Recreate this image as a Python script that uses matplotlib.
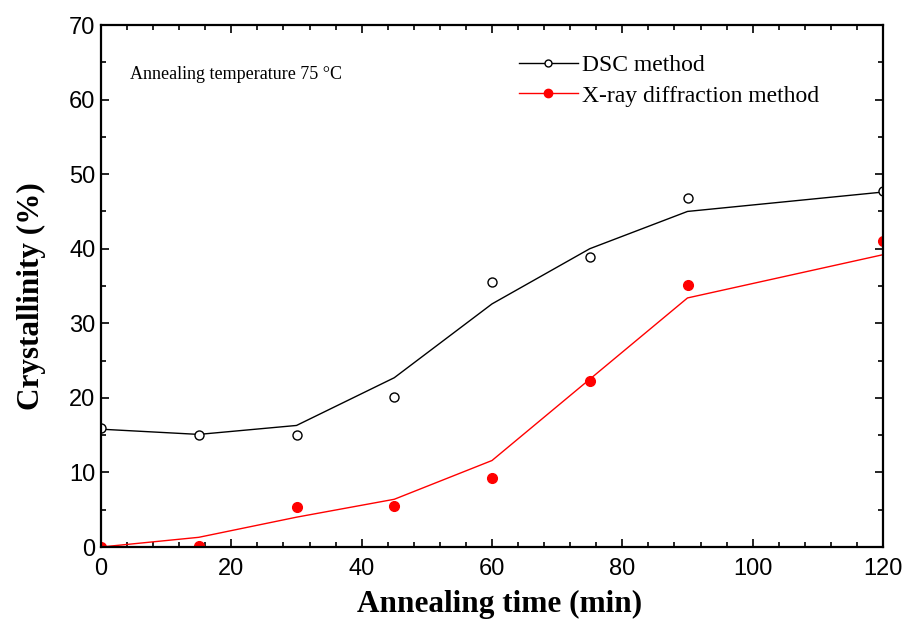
import matplotlib.pyplot as plt
from matplotlib.lines import Line2D
from matplotlib.ticker import MultipleLocator

# annealing times (min)
time = [0, 15, 30, 45, 60, 75, 90, 120]

# measured crystallinity (%)
dsc_pts = [15.9, 15.0, 15.0, 20.1, 35.6, 38.9, 46.8, 47.8]
xrd_pts = [0.0, 0.1, 5.3, 5.5, 9.2, 22.3, 35.2, 41.0]

# fitted curves (%)
dsc_fit = [15.8, 15.1, 16.3, 22.7, 32.6, 40.0, 45.0, 47.6]
xrd_fit = [0.0, 1.3, 4.0, 6.4, 11.6, 22.5, 33.4, 39.2]

serif = 'Liberation Serif'
sans = 'Liberation Sans'

fig = plt.figure(figsize=(9.05, 6.19), dpi=100)
ax = fig.add_axes([0.1116, 0.1163, 0.8641, 0.8433])

ax.plot(time, dsc_fit, color='black', lw=1.0)
ax.plot(time, dsc_pts, ls='none', marker='o', ms=6.5, mfc='white',
        mec='black', mew=1.0)
ax.plot(time, xrd_fit, color='red', lw=1.0)
ax.plot(time, xrd_pts, ls='none', marker='o', ms=7, mfc='red', mec='red')

ax.set_xlim(0, 120)
ax.set_ylim(0, 70)
ax.xaxis.set_major_locator(MultipleLocator(20))
ax.xaxis.set_minor_locator(MultipleLocator(4))
ax.yaxis.set_major_locator(MultipleLocator(10))
ax.yaxis.set_minor_locator(MultipleLocator(5))
ax.tick_params(which='both', direction='in', top=True, right=True, width=1.2)
ax.tick_params(which='major', length=6)
ax.tick_params(which='minor', length=3.5)
ax.tick_params(axis='x', which='major', pad=8)
ax.tick_params(axis='y', which='major', pad=4)
for lab in ax.get_xticklabels() + ax.get_yticklabels():
    lab.set_fontfamily(sans)
    lab.set_fontsize(17)
for sp in ax.spines.values():
    sp.set_linewidth(1.6)

# x label sits right at the bottom edge of the figure
ax.set_xlabel('Annealing time (min)', fontfamily=serif, fontweight='bold',
              fontsize=22.5, va='bottom')
ax.set_ylabel('Crystallinity (%)', fontfamily=serif, fontweight='bold',
              fontsize=22.5, va='center')
ax.xaxis.set_label_coords(0.51, -0.1388)
ax.yaxis.set_label_coords(-0.089, 0.481)

ax.text(0.037, 0.905, 'Annealing temperature 75 °C', transform=ax.transAxes,
        fontfamily=serif, fontsize=13, va='center', ha='left')

handles = [
    Line2D([], [], color='black', lw=1.0, marker='o', ms=5, mfc='white',
           mec='black', mew=1.0),
    Line2D([], [], color='red', lw=1.0, marker='o', ms=6, mfc='red', mec='red'),
]
ax.legend(handles, ['DSC method', 'X-ray diffraction method'],
          loc='upper left', bbox_to_anchor=(0.534, 0.944), frameon=False,
          prop={'family': serif, 'size': 17}, handlelength=2.5,
          handletextpad=0.2, labelspacing=0.4, borderpad=0, borderaxespad=0,
          numpoints=1)

fig.savefig('out.png', dpi=100)
